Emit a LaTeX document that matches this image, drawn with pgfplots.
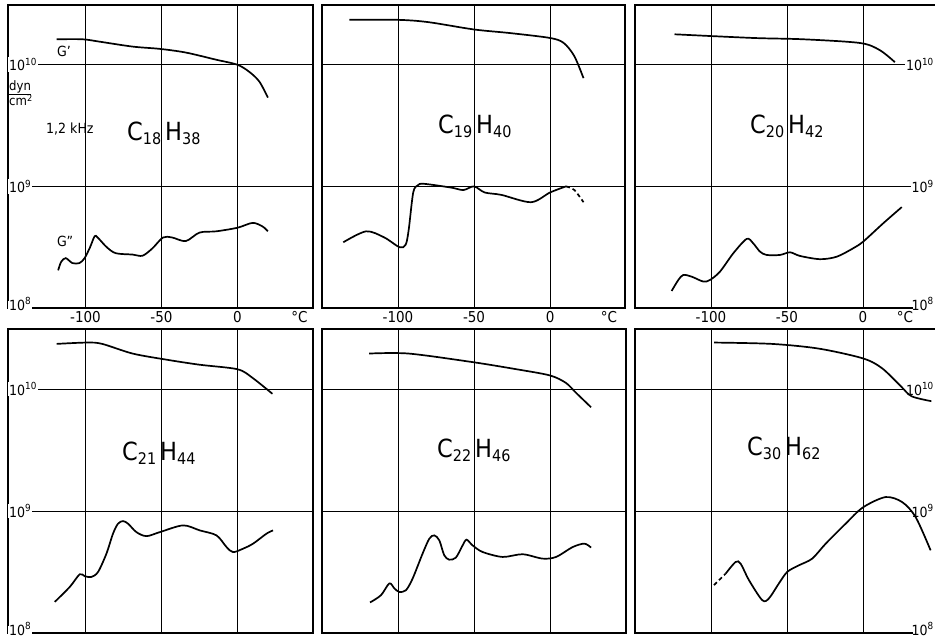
\documentclass[border=0pt]{standalone}
\usepackage{fontspec}
\setmainfont{DejaVu Sans Condensed}
\usepackage{pgfplots}
\pgfplotsset{compat=1.18}
\tikzset{curve/.style={black, line width=1.7pt, smooth, mark=none, solid}}
\pgfplotsset{
 panelbase/.style={
   scale only axis, ymin=1e8, ymax=3.1e10,
   xtick={-100,-50,0}, ytick={1e8,1e9,1e10},
   yticklabels={\raisebox{4pt}[\height][\depth]{10\textsuperscript{8}},10\textsuperscript{9},10\textsuperscript{10}},
   yminorticks=false, xminorticks=false,
   major tick length=0pt,
   grid=major,
   major grid style={black, line width=0.6pt},
   axis line style={black, line width=1.1pt},
   xticklabel style={font=\fontsize{15}{15}\selectfont},
   yticklabel style={font=\fontsize{14}{14}\selectfont},
 },
 paneltop/.style={xticklabels={-100,-50,0}, height=303pt},
 panelbot/.style={xticklabels={}, height=304pt},
 panelleft/.style={yticklabel style={anchor=west, fill=white, inner sep=1pt}},
 panelmid/.style={yticklabels={}},
 panelright/.style={yticklabel pos=right, yticklabel style={anchor=east, fill=white, inner sep=1pt},
   axis line style={draw=none},
   after end axis/.code={\draw[line width=1.1pt] (rel axis cs:1,1) -- (rel axis cs:0,1) -- (rel axis cs:0,0) -- (rel axis cs:0.927,0);}},
 paneldeg/.style={extra x ticks={#1}, extra x tick labels={°C}, extra x tick style={grid=none}},
}
\newcommand{\formula}[4]{\fontsize{25}{25}\selectfont #1\raisebox{-4pt}{\fontsize{16}{16}\selectfont #2}\hspace{4pt}#3\raisebox{-4pt}{\fontsize{16}{16}\selectfont #4}}
\begin{document}
\begin{tikzpicture}
\path[use as bounding box] (0,0) rectangle (935pt,-638pt);
% ---------- C18H38 ----------
\begin{axis}[ymode=log, panelbase, paneltop, panelleft, paneldeg=40.8, at={(8pt,-5pt)}, anchor=north west, width=305pt, xmin=-151, xmax=49.7]
\addplot[curve] coordinates {(-119,1.62e10) (-102,1.62e10) (-91,1.55e10) (-69,1.41e10) (-51,1.35e10) (-34,1.26e10) (-14,1.10e10) (0,1.0e10) (8,8.7e9) (14.5,7.24e9) (20,5.37e9)};
\addplot[curve] coordinates {(-118,2.04e8) (-116,2.40e8) (-113,2.57e8) (-108.6,2.34e8) (-104,2.34e8) (-100.6,2.57e8) (-97,3.16e8) (-94,3.89e8) (-92,3.80e8) (-86,3.16e8) (-80,2.82e8) (-69,2.75e8) (-62.5,2.69e8) (-56,3.09e8) (-49,3.80e8) (-43,3.80e8) (-34,3.55e8) (-25,4.17e8) (-14,4.27e8) (0,4.57e8) (10,5.01e8) (16.5,4.68e8) (20,4.27e8)};
\end{axis}
% ---------- C19H40 ----------
\begin{axis}[ymode=log, panelbase, paneltop, panelmid, paneldeg=38.8, at={(322pt,-5pt)}, anchor=north west, width=303pt, xmin=-150, xmax=49.3]
\addplot[curve] coordinates {(-132,2.34e10) (-100,2.34e10) (-80,2.24e10) (-50,1.95e10) (-26,1.82e10) (0,1.66e10) (9,1.51e10) (16,1.175e10) (22,7.76e9)};
\addplot[curve] coordinates {(-136,3.47e8) (-121,4.27e8) (-109,3.80e8) (-99,3.16e8) (-95,3.31e8) (-93,4.37e8) (-90,8.91e8) (-87,1.02e9) (-83,1.05e9) (-65,9.77e8) (-57,9.33e8) (-50,1.0e9) (-43,8.91e8) (-32,8.51e8) (-12.5,7.41e8) (0,8.91e8) (10.5,1.0e9)};
\addplot[curve, dash pattern=on 4pt off 3pt] coordinates {(10.5,1.0e9) (16,9.33e8) (22,7.41e8)};
\end{axis}
% ---------- C20H42 ----------
\begin{axis}[ymode=log, panelbase, paneltop, panelright, paneldeg=27.6, at={(635pt,-5pt)}, anchor=north west, width=300pt, xmin=-150, xmax=47.4]
\addplot[curve] coordinates {(-124,1.78e10) (-72,1.66e10) (-39.5,1.62e10) (-2,1.51e10) (11,1.32e10) (21,1.05e10)};
\addplot[curve] coordinates {(-125.9,1.38e8) (-121.5,1.70e8) (-118.2,1.87e8) (-112.7,1.81e8) (-105.1,1.65e8) (-100.7,1.70e8) (-94.1,1.99e8) (-85.3,2.82e8) (-76.5,3.70e8) (-72.2,3.40e8) (-67.8,2.91e8) (-63.4,2.73e8) (-54.6,2.73e8) (-48,2.87e8) (-41.5,2.68e8) (-28.3,2.52e8) (-17.3,2.64e8) (-6.4,3.10e8) (0.2,3.52e8) (13.4,4.98e8) (25.5,6.75e8)};
\end{axis}
% ---------- C21H44 ----------
\begin{axis}[ymode=log, panelbase, panelbot, panelleft, at={(8pt,-329pt)}, anchor=north west, width=305pt, xmin=-151, xmax=49.7]
\addplot[curve] coordinates {(-119,2.34e10) (-99,2.40e10) (-89,2.34e10) (-69,1.95e10) (-47,1.74e10) (-25,1.58e10) (0,1.45e10) (10,1.23e10) (23,9.12e9)};
\addplot[curve] coordinates {(-120.2,1.80e8) (-110.3,2.39e8) (-103.8,3.03e8) (-100.5,2.92e8) (-96.1,2.88e8) (-91.7,3.17e8) (-86.2,4.48e8) (-81.9,6.52e8) (-78.6,7.87e8) (-75.3,8.26e8) (-72,7.87e8) (-66.5,6.71e8) (-59.9,6.22e8) (-51.1,6.71e8) (-35.8,7.62e8) (-24.8,6.93e8) (-13.8,6.31e8) (-7.2,5.06e8) (-2.9,4.60e8) (3.7,4.91e8) (10.3,5.40e8) (19.1,6.52e8) (23.4,6.93e8)};
\end{axis}
% ---------- C22H46 ----------
\begin{axis}[ymode=log, panelbase, panelbot, panelmid, at={(322pt,-329pt)}, anchor=north west, width=304pt, xmin=-150, xmax=50]
\addplot[curve] coordinates {(-119,1.95e10) (-93,1.95e10) (-51,1.66e10) (-22,1.45e10) (0,1.29e10) (10.5,1.12e10) (17,9.33e9) (27,7.08e9)};
\addplot[curve] coordinates {(-118.4,1.78e8) (-111.2,2.04e8) (-105.7,2.55e8) (-102.4,2.32e8) (-99.2,2.17e8) (-94.8,2.24e8) (-90.4,2.79e8) (-83.8,4.48e8) (-79.4,5.93e8) (-76.1,6.31e8) (-72.8,5.74e8) (-69.6,4.34e8) (-66.3,3.99e8) (-61.9,4.15e8) (-57.5,5.22e8) (-54.9,5.82e8) (-50.9,5.22e8) (-44.3,4.61e8) (-31.2,4.20e8) (-18,4.42e8) (-4.9,4.07e8) (4,4.20e8) (14.9,5.06e8) (22.6,5.40e8) (27,5.01e8)};
\end{axis}
% ---------- C30H62 ----------
\begin{axis}[ymode=log, panelbase, panelbot, panelright, at={(635pt,-329pt)}, anchor=north west, width=300pt, xmin=-150, xmax=47.4]
\addplot[curve] coordinates {(-98,2.40e10) (-60,2.34e10) (-29,2.14e10) (0,1.78e10) (12.5,1.48e10) (25,1.05e10) (32,8.71e9) (45,7.94e9)};
\addplot[curve, dash pattern=on 4pt off 3pt] coordinates {(-98,2.47e8) (-90.3,3.07e8)};
\addplot[curve] coordinates {(-90.3,3.07e8) (-83.8,3.82e8) (-80.5,3.70e8) (-75,2.71e8) (-66.3,1.86e8) (-61.9,1.92e8) (-55.3,2.55e8) (-49.8,3.17e8) (-42.1,3.59e8) (-33.4,4.07e8) (-24.5,5.40e8) (-11.4,7.87e8) (0,1.07e9) (14.9,1.30e9) (25.9,1.18e9) (34.7,8.89e8) (44.5,4.76e8)};
\end{axis}
% ---------- labels ----------
\node[anchor=base west, inner sep=0] at (127pt,-140pt) {\formula{C}{18}{H}{38}};
\node[anchor=base west, inner sep=0] at (438pt,-133pt) {\formula{C}{19}{H}{40}};
\node[anchor=base west, inner sep=0] at (750pt,-133pt) {\formula{C}{20}{H}{42}};
\node[anchor=base west, inner sep=0] at (122pt,-460pt) {\formula{C}{21}{H}{44}};
\node[anchor=base west, inner sep=0] at (437pt,-457pt) {\formula{C}{22}{H}{46}};
\node[anchor=base west, inner sep=0] at (747pt,-455pt) {\formula{C}{30}{H}{62}};
\node[anchor=base west, inner sep=0, font=\fontsize{14}{14}\selectfont] at (46pt,-133pt) {1,2 kHz};
\node[anchor=base west, inner sep=0, font=\fontsize{14}{14}\selectfont] at (57pt,-56pt) {G'};
\node[anchor=base west, inner sep=0, font=\fontsize{14}{14}\selectfont] at (57pt,-246pt) {G''};
\node[anchor=north west, inner sep=0, font=\fontsize{13}{13}\selectfont, align=left] at (9pt,-80pt) {\underline{dyn}\\[-1pt]cm\textsuperscript{2}};
\end{tikzpicture}
\end{document}
